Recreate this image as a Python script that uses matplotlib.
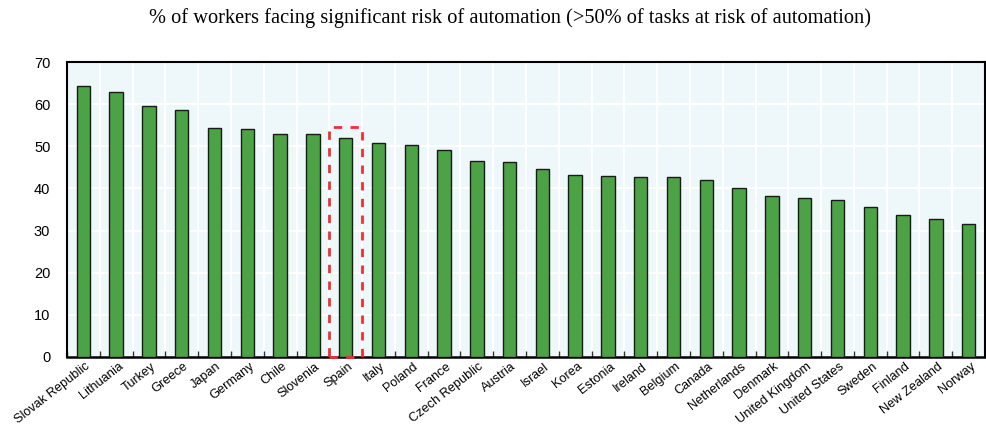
import matplotlib
matplotlib.use("Agg")
import matplotlib.pyplot as plt
from matplotlib.patches import Rectangle
import numpy as np

countries = ["Slovak Republic", "Lithuania", "Turkey", "Greece", "Japan", "Germany",
             "Chile", "Slovenia", "Spain", "Italy", "Poland", "France", "Czech Republic",
             "Austria", "Israel", "Korea", "Estonia", "Ireland", "Belgium", "Canada",
             "Netherlands", "Denmark", "United Kingdom", "United States", "Sweden",
             "Finland", "New Zealand", "Norway"]
values = [64.3, 62.9, 59.5, 58.6, 54.3, 54.1, 52.8, 52.8, 51.9, 50.7, 50.3, 49.1,
          46.6, 46.2, 44.7, 43.2, 43.0, 42.8, 42.6, 42.0, 40.0, 38.3, 37.7, 37.2,
          35.5, 33.6, 32.7, 31.5]
yticks = [0, 10, 20, 30, 40, 50, 60, 70]
highlight = "Spain"
highlight_top = 54.5
title = "% of workers facing significant risk of automation (>50% of tasks at risk of automation)"

fig = plt.figure(figsize=(9.86, 4.26), dpi=100)
ax = fig.add_axes([67/986, 1 - 357/426, 918/986, 295/426])
ax.set_facecolor("#EEF7F9")

x = np.arange(len(countries))
ax.bar(x, values, width=0.41, color="#4BA345", edgecolor="#1a1a1a", linewidth=1.0, zorder=3)

ax.set_xlim(-0.5, len(countries) - 0.5)
ax.set_ylim(0, 70)
ax.set_yticks(yticks)
ax.set_yticklabels([str(v) for v in yticks], fontsize=10.5, family="Liberation Sans")
ax.set_xticks(x + 0.05)
ax.set_xticklabels(countries, rotation=38, ha="right", rotation_mode="anchor",
                   fontsize=9.2, family="Liberation Sans")
ax.tick_params(axis="x", length=0, pad=2.5)
ax.tick_params(axis="y", length=0, pad=12)
ax.set_xticks(np.arange(-0.5, len(countries), 1), minor=True)
ax.tick_params(axis="x", which="minor", direction="in", length=4, width=1, color="#333333")

for xb in np.arange(0.5, len(countries) - 0.5, 1):
    ax.axvline(xb, color="white", lw=1.5, zorder=1)
for yv in yticks[1:-1]:
    ax.axhline(yv, color="white", lw=1.5, zorder=1)

for s in ax.spines.values():
    s.set_color("black")
    s.set_linewidth(1.5)
ax.spines["bottom"].set_linewidth(1.8)

i = countries.index(highlight)
ax.add_patch(Rectangle((i - 0.5, 0.1), 1.0, highlight_top - 0.1, fill=False,
                       edgecolor="#F03030", linestyle=(0, (3, 3)), linewidth=2.0, zorder=4,
                       clip_on=False))

fig.text(510/986, 1 - 18/426, title, ha="center", va="center", fontsize=14.7,
         family="Liberation Serif")

fig.savefig("out.png", dpi=100)
